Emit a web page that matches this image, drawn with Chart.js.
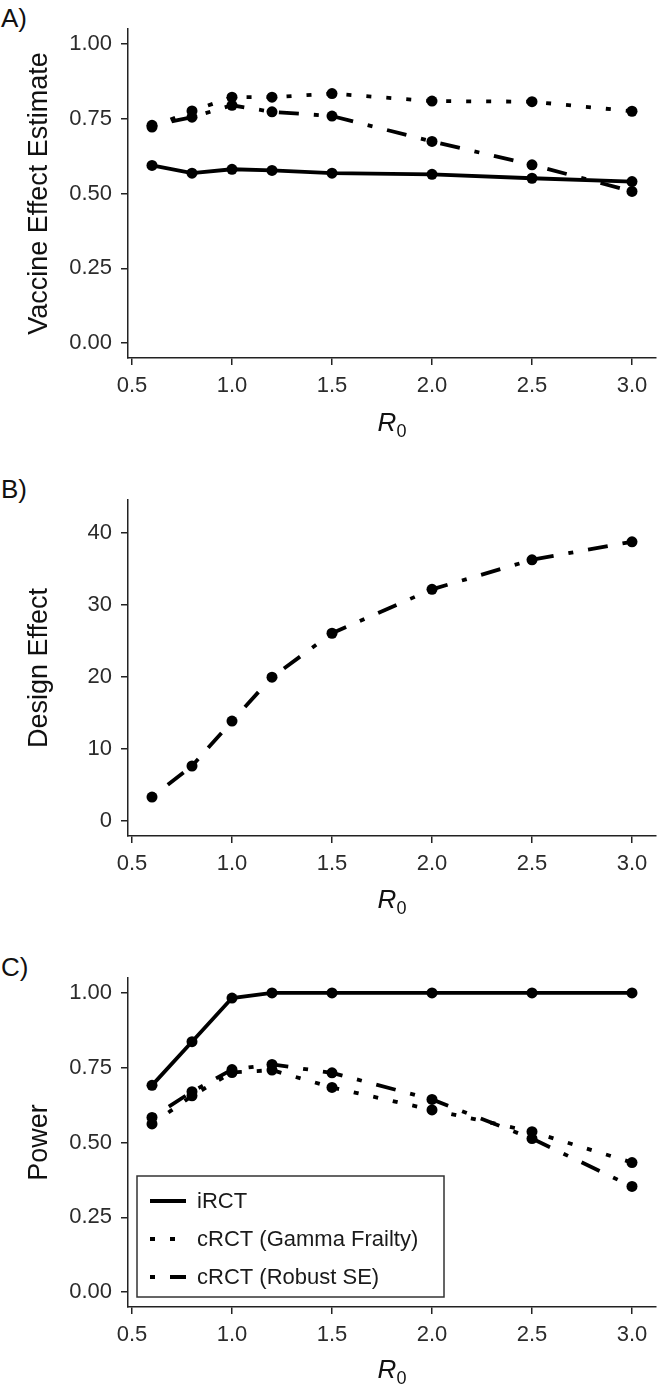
<!DOCTYPE html>
<html>
<head>
    <title>Vaccine effect, design effect and power by R0</title>
    <script src="https://cdn.jsdelivr.net/npm/chart.js"></script>
    <style>
        body {
            margin: 0;
            width: 668px;
            height: 1395px;
            position: relative;
            overflow: hidden;
            background: #fff;
            font-family: "Liberation Sans", Arial, Helvetica, sans-serif;
            color: #111;
        }

        canvas {
            position: absolute;
            left: 0;
        }

        /* panel letters */
        .tag {
            position: absolute;
            left: 1px;
            font-size: 26px;
            line-height: 26px;
        }

        /* x axis title R0 */
        .xt {
            position: absolute;
            left: 352px;
            width: 80px;
            text-align: center;
            font-size: 26px;
            line-height: 26px;
        }
        .xt i { font-style: italic; }
        .xt sub { font-size: 18px; vertical-align: -6px; line-height: 0; }
    </style>
</head>
<body>
    <div class="tag" style="top: 5px;">A)</div>
    <canvas id="chartA" width="668" height="440" style="top: 0px;"></canvas>
    <div class="xt" style="top: 409px;"><i>R</i><sub>0</sub></div>

    <div class="tag" style="top: 476px;">B)</div>
    <canvas id="chartB" width="668" height="440" style="top: 471px;"></canvas>
    <div class="xt" style="top: 886px;"><i>R</i><sub>0</sub></div>

    <div class="tag" style="top: 954px;">C)</div>
    <canvas id="chartC" width="668" height="440" style="top: 949px;"></canvas>
    <div class="xt" style="top: 1356px;"><i>R</i><sub>0</sub></div>

    <script>
        // x values shared by all panels
        var r0 = [0.6, 0.8, 1.0, 1.2, 1.5, 2.0, 2.5, 3.0];
        var xTicks = [0.5, 1.0, 1.5, 2.0, 2.5, 3.0];

        var seriesNames = ['iRCT', 'cRCT (Gamma Frailty)', 'cRCT (Robust SE)'];

        // A) vaccine effect estimate
        var veIRCT   = [0.594, 0.568, 0.581, 0.577, 0.568, 0.564, 0.551, 0.540];
        var veGamma  = [0.722, 0.776, 0.822, 0.822, 0.834, 0.809, 0.807, 0.775];
        var veRobust = [0.728, 0.755, 0.795, 0.773, 0.759, 0.674, 0.596, 0.507];
        var veTicks  = [0, 0.25, 0.5, 0.75, 1.0];

        // B) design effect
        var designEffect = [3.35, 7.67, 13.9, 20.0, 26.1, 32.2, 36.3, 38.8];
        var deTicks = [0, 10, 20, 30, 40];

        // C) power
        var powIRCT   = [0.691, 0.837, 0.983, 1.0, 1.0, 1.0, 1.0, 1.0];
        var powGamma  = [0.562, 0.656, 0.734, 0.742, 0.684, 0.609, 0.536, 0.433];
        var powRobust = [0.584, 0.670, 0.744, 0.761, 0.733, 0.644, 0.513, 0.353];
        var powTicks  = [0, 0.25, 0.5, 0.75, 1.0];

        var FONT = '"Liberation Sans", Arial, Helvetica, sans-serif';
        var AXIS = '#222';
        var U = 5; // dash unit, ggplot style
        var DASH = {
            solid: [],
            dotted: [U, 3 * U],
            dotdash: [U, 3 * U, 4 * U, 3 * U]
        };

        function series(label, ys, dash) {
            return {
                label: label,
                data: r0.map(function (x, i) { return {x: x, y: ys[i]}; }),
                borderColor: '#000',
                backgroundColor: '#000',
                borderWidth: 3.8,
                borderDash: dash,
                borderCapStyle: 'butt',
                pointRadius: 5.5,
                pointHoverRadius: 5.5,
                pointBorderWidth: 0,
                tension: 0,
                fill: false
            };
        }

        function makeScales(yMin, yMax, yTicks, digits, yTitle, xAxisH) {
            return {
                x: {
                    type: 'linear',
                    min: 0.48,
                    max: 3.12,
                    afterBuildTicks: function (s) { s.ticks = xTicks.map(function (v) { return {value: v}; }); },
                    afterFit: function (s) { s.height = xAxisH; },
                    grid: { drawOnChartArea: false, drawTicks: true, tickLength: 7, color: AXIS, lineWidth: 1.5 },
                    border: { display: true, color: AXIS, width: 1.5 },
                    ticks: {
                        color: '#2b2b2b', font: { size: 22, family: FONT }, padding: 8,
                        maxRotation: 0, autoSkip: false,
                        callback: function (v) { return Number(v).toFixed(1); }
                    }
                },
                y: {
                    min: yMin,
                    max: yMax,
                    afterBuildTicks: function (s) { s.ticks = yTicks.map(function (v) { return {value: v}; }); },
                    afterFit: function (s) { s.width = 128; },
                    grid: { drawOnChartArea: false, drawTicks: true, tickLength: 7, color: AXIS, lineWidth: 1.5 },
                    border: { display: true, color: AXIS, width: 1.5 },
                    ticks: {
                        color: '#2b2b2b', font: { size: 22, family: FONT }, padding: 9,
                        autoSkip: false,
                        callback: function (v) { return Number(v).toFixed(digits); }
                    },
                    title: {
                        display: true, text: yTitle, color: '#111',
                        font: { size: 27, family: FONT }, padding: { top: 23, bottom: 0 }
                    }
                }
            };
        }

        // legend box drawn inside panel C
        var boxLegend = {
            id: 'boxLegend',
            afterDraw: function (chart) {
                var ctx = chart.ctx;
                var area = chart.chartArea;
                var x0 = area.left + 9, y0 = area.top + 198, w = 307, h = 121;
                ctx.save();
                ctx.fillStyle = '#fff';
                ctx.fillRect(x0, y0, w, h);
                ctx.strokeStyle = '#333';
                ctx.lineWidth = 1.5;
                ctx.strokeRect(x0, y0, w, h);
                var rows = [25, 63, 101];
                chart.data.datasets.forEach(function (ds, i) {
                    var yy = y0 + rows[i];
                    ctx.strokeStyle = ds.borderColor;
                    ctx.lineWidth = ds.borderWidth;
                    ctx.lineCap = 'butt';
                    ctx.setLineDash(ds.borderDash);
                    ctx.beginPath();
                    ctx.moveTo(x0 + 13, yy);
                    ctx.lineTo(x0 + 49, yy);
                    ctx.stroke();
                    ctx.setLineDash([]);
                    ctx.fillStyle = '#1a1a1a';
                    ctx.font = '22px ' + FONT;
                    ctx.textBaseline = 'middle';
                    ctx.textAlign = 'left';
                    ctx.fillText(ds.label, x0 + 60, yy + 1);
                });
                ctx.restore();
            }
        };

        function panel(id, datasets, scales, extraPlugins) {
            return new Chart(document.getElementById(id), {
                type: 'line',
                data: { datasets: datasets },
                options: {
                    responsive: false,
                    maintainAspectRatio: false,
                    animation: false,
                    events: [],
                    layout: { padding: { top: 29, left: 0, right: 12, bottom: 0 } },
                    plugins: { legend: { display: false }, tooltip: { enabled: false } },
                    scales: scales
                },
                plugins: extraPlugins || []
            });
        }

        panel('chartA', [
            series(seriesNames[0], veIRCT, DASH.solid),
            series(seriesNames[1], veGamma, DASH.dotted),
            series(seriesNames[2], veRobust, DASH.dotdash)
        ], makeScales(-0.05, 1.05, veTicks, 2, 'Vaccine Effect Estimate', 440 - 358));

        panel('chartB', [
            series('Design Effect', designEffect, DASH.dotdash)
        ], makeScales(-2.05, 44.6, deTicks, 0, 'Design Effect', 440 - 365));

        panel('chartC', [
            series(seriesNames[0], powIRCT, DASH.solid),
            series(seriesNames[1], powGamma, DASH.dotted),
            series(seriesNames[2], powRobust, DASH.dotdash)
        ], makeScales(-0.05, 1.05, powTicks, 2, 'Power', 440 - 358), [boxLegend]);
    </script>
</body>
</html>
